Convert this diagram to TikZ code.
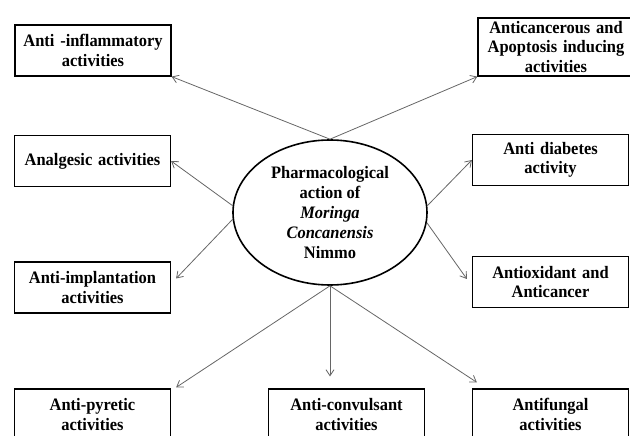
\documentclass[tikz,border=0pt]{standalone}
\usepackage{fontspec}
\setmainfont{Liberation Serif}[FakeStretch=0.94]
\usetikzlibrary{positioning,shapes.geometric,arrows.meta}

\begin{document}
\begin{tikzpicture}[on grid,
         activity/.style = {draw, line width=1.2pt, text width=146pt,
         align=center, inner xsep=5pt, minimum height=51pt,
         font=\fontsize{17.5}{19.5}\selectfont\bfseries},
         action/.style = {ellipse, draw, line width=1.6pt, inner sep=0pt,
         minimum width=194pt, minimum height=145pt, align=center,
         font=\fontsize{17.5}{20}\selectfont\bfseries},
         effect/.style = {draw=black!60, line width=0.8pt,
         -{Straight Barb[length=6pt,width=8pt]}}
]
      \useasboundingbox (-330pt,212.5pt) rectangle (300pt,-223.5pt);

      \node[action] (mc) at (0,0) {Pharmacological\\ action of\\
         \textit{Moringa}\\ \textit{Concanensis}\\ Nimmo};

      \node[activity, above left =162pt and 237pt of mc] (infl)
         {Anti -inflammatory\\ activities};
      \node[activity, above right=165.5pt and 226pt of mc] (canc)
         {Anticancerous and\\ Apoptosis inducing\\ activities};
      \node[activity, above left =51.5pt and 237.5pt of mc] (analg)
         {Analgesic activities};
      \node[activity, above right=52.5pt and 220.5pt of mc] (diab)
         {Anti diabetes\\ activity};
      \node[activity, below left =75pt and 237.5pt of mc] (impl)
         {Anti-implantation\\ activities};
      \node[activity, below right=69.5pt and 220.5pt of mc] (oxid)
         {Antioxidant and\\ Anticancer};
      \node[activity, below left =202pt and 237.5pt of mc] (pyr)
         {Anti-pyretic\\ activities};
      \node[activity, below right=202pt and 16.5pt of mc] (conv)
         {Anti-convulsant\\ activities};
      \node[activity, below right=202pt and 220.5pt of mc] (fung)
         {Antifungal\\ activities};

      \draw[effect] (mc.north) -- (infl.south east);
      \draw[effect] (mc.north) -- (canc.south west);
      \draw[effect] (mc.176) -- (analg.east);
      \draw[effect] (mc.4) -- (diab.west);
      \draw[effect] (mc.184) -- ([shift={(5pt,9pt)}]impl.east);
      \draw[effect] (mc.-6) -- ([shift={(-5pt,3pt)}]oxid.west);
      \draw[effect] (mc.south) -- ([shift={(5pt,1pt)}]pyr.north east);
      \draw[effect, shorten >=12pt] (mc.south) -- (mc.south |- conv.north);
      \draw[effect] (mc.south) -- ([shift={(5pt,6pt)}]fung.north west);
   \end{tikzpicture}
\end{document}
